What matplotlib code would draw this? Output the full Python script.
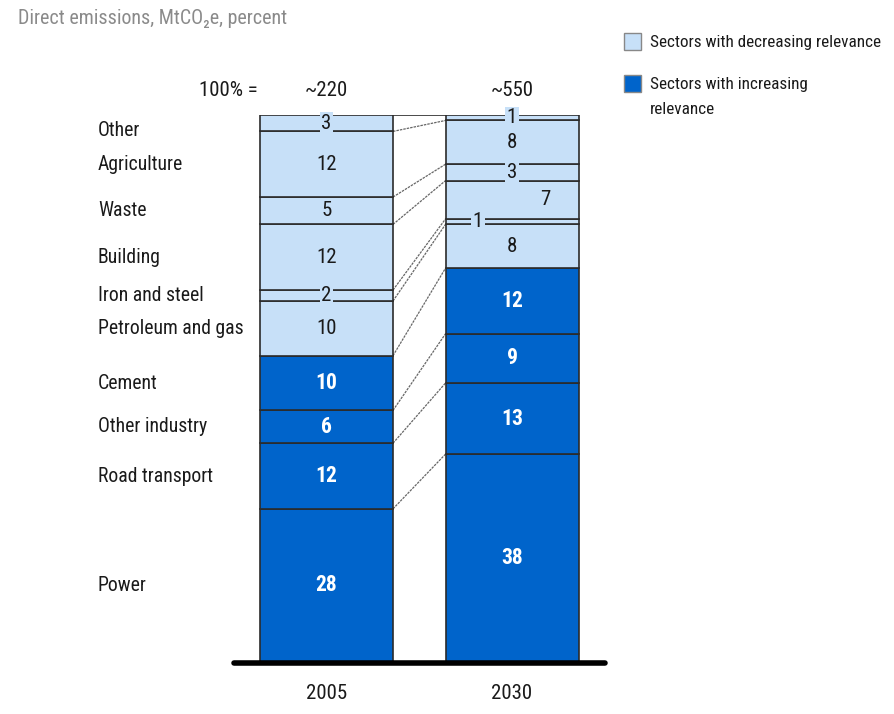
import numpy as np
import matplotlib.pyplot as plt
from matplotlib import font_manager

# ----------------------------
# Data (bottom to top of each stack)
# ----------------------------
sectors = ["Power", "Road transport", "Other industry", "Cement",
           "Petroleum and gas", "Iron and steel", "Building", "Waste",
           "Agriculture", "Other"]
share_2005 = [28, 12, 6, 10, 10, 2, 12, 5, 12, 3]
share_2030 = [38, 13, 9, 12, 8, 1, 7, 3, 8, 1]
increasing = [True, True, True, True, False, False, False, False, False, False]
years = ["2005", "2030"]
totals = ["~220", "~550"]

DARK = "#0064CB"
LIGHT = "#C7E0F8"
EDGE = "#2b2b2b"
INK = "#1a1a1a"

# prefer a condensed face, otherwise plain Liberation Sans
names = {f.name for f in font_manager.fontManager.ttflist}
fam = "Liberation Sans"
for cand in ["Liberation Sans Narrow", "Roboto Condensed", "Open Sans Condensed",
             "Noto Sans Condensed", "Arial Narrow"]:
    if cand in names:
        fam = cand
        break
plt.rcParams["font.family"] = [fam, "DejaVu Sans"]

W, H = 895, 714
fig = plt.figure(figsize=(W / 100, H / 100), dpi=100)

# axes: x in bar units (centres at 0 and 1), y in percent
px_per_unit = 185.5
x0_px = 326.5
xmin, xmax = -1.25, 2.0
left = (x0_px + xmin * px_per_unit) / W
width = (xmax - xmin) * px_per_unit / W
ax = fig.add_axes([left, (H - 662) / H, width, 547 / H])
ax.set_xlim(xmin, xmax)
ax.set_ylim(0, 100)
ax.axis("off")

bar_w = 133 / px_per_unit
colors = [DARK if inc else LIGHT for inc in increasing]

# label nudges (x offset in bar units) for a few crowded cells
x_nudge = {(1, 5): -0.184, (1, 6): 0.18}

for i, shares in enumerate([share_2005, share_2030]):
    bottoms = np.concatenate([[0], np.cumsum(shares)[:-1]])
    ax.bar(i, shares, bottom=bottoms, width=bar_w, color=colors,
           edgecolor=EDGE, linewidth=1.2, zorder=2)
    for j, (v, b) in enumerate(zip(shares, bottoms)):
        cx = i + x_nudge.get((i, j), 0)
        cy = b + v / 2
        if increasing[j]:
            ax.text(cx, cy, str(v), ha="center", va="center", color="white",
                    fontsize=15.5, fontweight="bold", zorder=4)
        else:
            kw = {}
            if v <= 3:
                kw["bbox"] = dict(boxstyle="square,pad=0.08", fc=LIGHT, ec="none")
            ax.text(cx, cy, str(v), ha="center", va="center", color=INK,
                    fontsize=15, zorder=4, **kw)
    ax.text(i, -5.7, years[i], ha="center", va="center", fontsize=15,
            color=INK)
    ax.text(i, 104.5, totals[i], ha="center", va="center", fontsize=15,
            color=INK)

ax.text(-0.685, 104.5, "100% =", ha="left", va="center", fontsize=15,
        color=INK)

# connectors between the stacks
cum05 = np.cumsum(share_2005)
cum30 = np.cumsum(share_2030)
xa, xb = bar_w / 2, 1 - bar_w / 2
for a, b in zip(cum05[:-1], cum30[:-1]):
    ax.plot([xa, xb], [a, b], color="#666666", lw=0.9, ls=(0, (2, 0.8)),
            zorder=1)
ax.plot([xa, xb], [100, 100], color=EDGE, lw=1.2, zorder=1)

# baseline
ax.plot([-0.5, 1.5], [-0.2, -0.2], color="black", lw=4,
        solid_capstyle="round", zorder=5, clip_on=False)

# sector names along the left
label_pos = [b + v / 2 for v, b in zip(share_2005,
             np.concatenate([[0], cum05[:-1]]))]
label_pos[-1] -= 1.4
for name, y in zip(sectors, label_pos):
    ax.text(-1.232, y, name, ha="left", va="center", fontsize=14.2,
            color=INK)

# title
fig.text(18 / W, 1 - 18 / H, "Direct emissions, MtCO₂e, percent",
         ha="left", va="center", fontsize=14.4, color="#8a8a8a")

# legend
for (ytop, c) in [(33, LIGHT), (75, DARK)]:
    fig.patches.append(plt.Rectangle((624 / W, 1 - (ytop + 17) / H),
                                     17 / W, 17 / H, transform=fig.transFigure,
                                     fc=c, ec="#888888", lw=1))
fig.text(650 / W, 1 - 42 / H, "Sectors with decreasing relevance",
         ha="left", va="center", fontsize=12.3, color=INK)
fig.text(650 / W, 1 - 84 / H, "Sectors with increasing",
         ha="left", va="center", fontsize=12.3, color=INK)
fig.text(650 / W, 1 - 109 / H, "relevance",
         ha="left", va="center", fontsize=12.3, color=INK)

fig.savefig("out.png", dpi=100)
